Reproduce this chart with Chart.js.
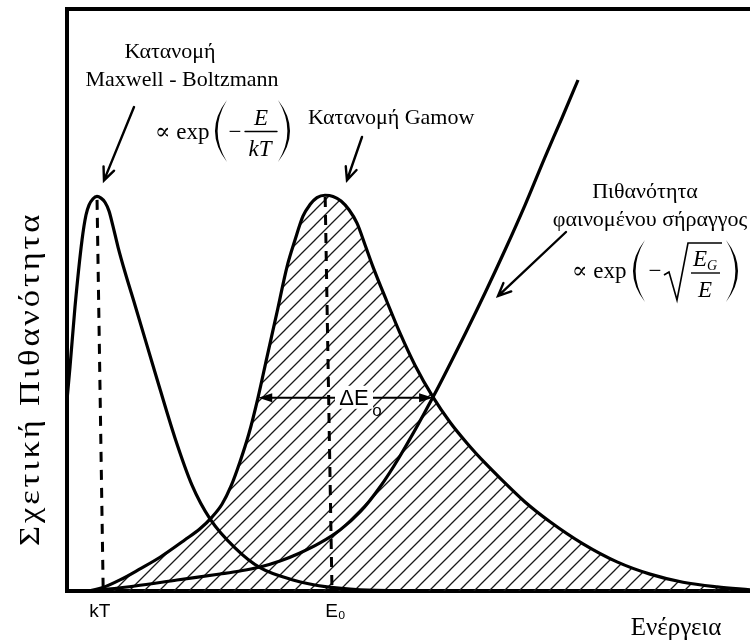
<!DOCTYPE html>
<html lang="el">
<head>
<meta charset="utf-8">
<title>Κορυφή Gamow</title>
<script src="https://cdn.jsdelivr.net/npm/chart.js@4/dist/chart.umd.min.js"></script>
<style>
  html, body { margin: 0; padding: 0; background: #fff; }
  canvas { display: block; }
</style>
</head>
<body>
<canvas id="c" width="750" height="644"></canvas>
<script>
// Energy (arbitrary units, 0–100) and relative probability (arbitrary units, 0–100)

// Maxwell–Boltzmann distribution
const mbEnergy = [0, 0.44, 1.17, 2.20, 2.78, 3.22, 3.81, 4.39, 4.98, 5.56, 6.15, 6.73, 7.47, 8.49, 9.96, 12.88, 15.81, 18.30, 20.94, 24.6, 28.26, 33.09, 38.07, 42.9, 51.68];
const mbProb   = [32.8, 38.5, 48.8, 60.3, 64.6, 66.3, 67.4, 67.8, 67.5, 66.8, 65.3, 62.7, 59.1, 54.8, 49.1, 37.6, 26.3, 18.2, 12.4, 7.4, 4.0, 1.9, 0.7, 0.2, 0];

// Gamow peak (product of the two factors)
const gamowEnergy = [3.37, 5.27, 7.76, 10.69, 13.62, 17.28, 19.47, 21.23, 22.69, 24.01, 25.33, 26.65, 27.96, 29.28, 30.75, 32.21, 33.38, 34.55, 35.58, 36.60, 37.77,
                     38.95, 40.12, 41.29, 42.46, 43.63, 44.80, 46.85, 48.76, 50.95, 53.59, 56.08, 58.57, 61.20, 63.40, 67.06, 70.72, 75.55, 80.53, 85.36, 90.19, 95.17, 100];
const gamowProb   = [0, 0.6, 1.9, 3.8, 5.8, 8.8, 10.7, 12.7, 14.9, 18.0, 22.2, 27.1, 33.2, 40.2, 47.9, 55.7, 60.3, 64.4, 66.4, 67.6, 68.0,
                     67.8, 67.0, 65.5, 63.2, 59.5, 55.7, 49.7, 44.3, 38.8, 33.3, 29.0, 25.4, 22.0, 19.4, 15.3, 11.9, 8.1, 5.0, 2.9, 1.5, 0.7, 0.2];

// Tunnelling probability through the Coulomb barrier
const tunnelEnergy = [3.37, 9.96, 16.11, 22.40, 25.33, 28.26, 31.19, 34.11, 37.04, 39.97, 42.90, 45.83, 48.76, 53.59, 58.57, 61.20, 64.13, 67.06, 69.99, 72.47, 74.82];
const tunnelProb   = [0, 0.86, 1.89, 2.92, 3.44, 4.12, 5.15, 6.53, 8.25, 10.48, 13.57, 17.87, 23.20, 33.33, 44.85, 51.20, 58.59, 66.32, 74.57, 81.27, 87.80];

// Dashed markers under the two peaks
const kTMarkerEnergy = [4.4, 5.3];
const kTMarkerProb   = [67.2, 0];
const e0MarkerEnergy = [37.8, 38.8];
const e0MarkerProb   = [67.7, 0];

// Energy-axis ticks
const tickEnergies = [4.8, 39.3];
const tickLabels   = ['kT', 'E₀'];

// Width of the Gamow peak (ΔE₀)
const deltaELevel = 33.2;
const deltaEFrom  = 28.0;
const deltaETo    = 53.6;

const SERIF = '"Liberation Serif", "DejaVu Serif", serif';
const SANS  = '"Liberation Sans", "DejaVu Sans", sans-serif';

const pts = (xs, ys) => xs.map((v, i) => ({ x: v, y: ys[i] }));

function hatchPattern() {
  const p = 15;
  const c = document.createElement('canvas');
  c.width = p; c.height = p;
  const g = c.getContext('2d');
  g.strokeStyle = '#1a1a1a';
  g.lineWidth = 1.3;
  g.beginPath();
  g.moveTo(-2, p + 2); g.lineTo(p + 2, -2);
  g.moveTo(-2, 2); g.lineTo(2, -2);
  g.moveTo(p - 2, p + 2); g.lineTo(p + 2, p - 2);
  g.stroke();
  return g.createPattern(c, 'repeat');
}

const curve = {
  showLine: true, pointRadius: 0, borderColor: '#000', borderWidth: 3.2,
  cubicInterpolationMode: 'monotone', fill: false
};

// Annotation layer: labels, formulas, arrows
function vArrow(ctx, x1, y1, x2, y2) {
  const a = Math.atan2(y2 - y1, x2 - x1), L = 14, s = 0.42;
  ctx.beginPath();
  ctx.moveTo(x1, y1); ctx.lineTo(x2, y2);
  ctx.moveTo(x2 - L * Math.cos(a - s), y2 - L * Math.sin(a - s));
  ctx.lineTo(x2, y2);
  ctx.lineTo(x2 - L * Math.cos(a + s), y2 - L * Math.sin(a + s));
  ctx.stroke();
}
function paren(ctx, xe, top, bot, bulge, thick) {
  const mid = (top + bot) / 2, sg = Math.sign(bulge);
  ctx.beginPath();
  ctx.moveTo(xe, top);
  ctx.quadraticCurveTo(xe + 2 * bulge, mid, xe, bot);
  ctx.quadraticCurveTo(xe + 2 * (bulge - sg * thick), mid, xe, top);
  ctx.closePath();
  ctx.fill();
}
function txt(ctx, s, x, y, font, align, base) {
  ctx.font = font;
  ctx.textAlign = align || 'center';
  ctx.textBaseline = base || 'middle';
  ctx.fillText(s, x, y);
}

const annotations = {
  id: 'annotations',
  beforeDraw(chart) {
    const { ctx, width, height } = chart;
    ctx.save(); ctx.fillStyle = '#fff'; ctx.fillRect(0, 0, width, height); ctx.restore();
  },
  afterDatasetsDraw(chart) {
    const { ctx, scales: { x, y } } = chart;
    ctx.save();
    ctx.fillStyle = '#000';
    ctx.strokeStyle = '#000';
    ctx.lineCap = 'round';

    // axis titles
    ctx.save();
    ctx.translate(31, 380);
    ctx.rotate(-Math.PI / 2);
    ctx.scale(1.15, 1);
    ctx.letterSpacing = '2.5px';
    txt(ctx, 'Σχετική Πιθανότητα', 1, 0, '30px ' + SERIF);
    ctx.restore();
    txt(ctx, 'Ενέργεια', 676, 628, '25px ' + SERIF);

    // Maxwell–Boltzmann label
    txt(ctx, 'Κατανομή', 170, 52, '22px ' + SERIF);
    txt(ctx, 'Maxwell - Boltzmann', 182, 80, '22px ' + SERIF);
    ctx.lineWidth = 2.4;
    const mbPeak = { x: x.getPixelForValue(mbEnergy[7]), y: y.getPixelForValue(mbProb[7]) };
    vArrow(ctx, 134, 107, mbPeak.x + 7, mbPeak.y - 16);

    // ∝ exp(−E/kT)
    txt(ctx, '∝ exp', 155, 139, '23px ' + SERIF, 'left', 'alphabetic');
    paren(ctx, 227, 100, 162, -12, 2.6);
    txt(ctx, '−', 235, 139, '23px ' + SERIF, 'center', 'alphabetic');
    txt(ctx, 'E', 261, 125, 'italic 23px ' + SERIF, 'center', 'alphabetic');
    ctx.lineWidth = 1.4;
    ctx.beginPath(); ctx.moveTo(245, 131.5); ctx.lineTo(277, 131.5); ctx.stroke();
    txt(ctx, 'kT', 260, 156, 'italic 23px ' + SERIF, 'center', 'alphabetic');
    paren(ctx, 278, 100, 162, 12, 2.6);

    // Gamow label
    txt(ctx, 'Κατανομή Gamow', 308, 118, '22px ' + SERIF, 'left');
    ctx.lineWidth = 2.4;
    const gPeak = { x: x.getPixelForValue(gamowEnergy[20]), y: y.getPixelForValue(gamowProb[20]) };
    vArrow(ctx, 362, 137, gPeak.x + 22, gPeak.y - 15);

    // tunnelling label and ∝ exp(−√(E_G/E))
    txt(ctx, 'Πιθανότητα', 645, 192, '22px ' + SERIF);
    txt(ctx, 'φαινομένου σήραγγος', 650, 220, '22px ' + SERIF);
    txt(ctx, '∝ exp', 572, 278, '23px ' + SERIF, 'left', 'alphabetic');
    paren(ctx, 645, 240, 302, -12, 2.6);
    txt(ctx, '−', 655, 278, '23px ' + SERIF, 'center', 'alphabetic');
    ctx.lineWidth = 1.6;
    ctx.lineCap = 'butt';
    ctx.beginPath();
    ctx.moveTo(664, 275); ctx.lineTo(669, 272); ctx.lineTo(677, 300); ctx.lineTo(688, 243); ctx.lineTo(722, 243);
    ctx.stroke();
    txt(ctx, 'E', 700, 266, 'italic 23px ' + SERIF, 'center', 'alphabetic');
    txt(ctx, 'G', 712, 270, 'italic 14px ' + SERIF, 'center', 'alphabetic');
    ctx.lineWidth = 1.4;
    ctx.beginPath(); ctx.moveTo(691, 273); ctx.lineTo(720, 273); ctx.stroke();
    txt(ctx, 'E', 705, 297, 'italic 23px ' + SERIF, 'center', 'alphabetic');
    paren(ctx, 726, 240, 302, 12, 2.6);
    ctx.lineCap = 'round';
    ctx.lineWidth = 2.4;
    const tp = { x: x.getPixelForValue(tunnelEnergy[15]), y: y.getPixelForValue(tunnelProb[15]) };
    vArrow(ctx, 566, 232, tp.x + 13, tp.y + 3);

    // ΔE₀ width arrow
    const yL = y.getPixelForValue(deltaELevel);
    const xa = x.getPixelForValue(deltaEFrom), xb = x.getPixelForValue(deltaETo);
    ctx.lineWidth = 2;
    ctx.beginPath(); ctx.moveTo(xa + 6, yL); ctx.lineTo(xb - 6, yL); ctx.stroke();
    ctx.beginPath();
    ctx.moveTo(xa, yL); ctx.lineTo(xa + 14, yL - 4.5); ctx.lineTo(xa + 14, yL + 4.5); ctx.closePath();
    ctx.moveTo(xb, yL); ctx.lineTo(xb - 14, yL - 4.5); ctx.lineTo(xb - 14, yL + 4.5); ctx.closePath();
    ctx.fill();
    ctx.fillStyle = '#fff';
    ctx.fillRect(335, yL - 12, 38, 23);
    ctx.fillStyle = '#000';
    txt(ctx, 'ΔE', 354, yL + 1, '22px ' + SANS);
    txt(ctx, 'o', 377, yL + 14, '17px ' + SANS);

    ctx.restore();
  }
};

new Chart(document.getElementById('c'), {
  type: 'scatter',
  data: {
    datasets: [
      { ...curve, label: 'Maxwell-Boltzmann', data: pts(mbEnergy, mbProb) },
      { ...curve, label: 'Tunnelling', data: pts(tunnelEnergy, tunnelProb) },
      { ...curve, label: 'kT', data: pts(kTMarkerEnergy, kTMarkerProb), borderWidth: 3, borderDash: [10, 8], cubicInterpolationMode: 'default', tension: 0 },
      { ...curve, label: 'E0', data: pts(e0MarkerEnergy, e0MarkerProb), borderWidth: 3, borderDash: [10, 8], cubicInterpolationMode: 'default', tension: 0 },
      { ...curve, label: 'Gamow', data: pts(gamowEnergy, gamowProb), fill: 'origin', backgroundColor: hatchPattern() }
    ]
  },
  options: {
    responsive: false,
    animation: false,
    events: [],
    layout: { padding: 0 },
    plugins: { legend: { display: false }, tooltip: { enabled: false } },
    scales: {
      x: {
        type: 'linear', position: 'bottom', min: 0, max: 100,
        grid: { display: false, drawTicks: false },
        border: { display: true, color: '#000', width: 4 },
        afterBuildTicks: s => { s.ticks = tickEnergies.map(v => ({ value: v })); },
        ticks: {
          autoSkip: false, maxRotation: 0, padding: 9, color: '#000',
          font: { family: SANS, size: 19 },
          callback: (v, i) => tickLabels[i]
        },
        afterFit: s => { s.height = 53; }
      },
      xTop: {
        type: 'linear', position: 'top', min: 0, max: 100,
        grid: { display: false, drawTicks: false },
        ticks: { display: false },
        border: { display: true, color: '#000', width: 4 },
        afterFit: s => { s.height = 9; }
      },
      y: {
        type: 'linear', position: 'left', min: 0, max: 100,
        grid: { display: false, drawTicks: false },
        ticks: { display: false },
        border: { display: true, color: '#000', width: 4 },
        afterFit: s => { s.width = 67; }
      }
    }
  },
  plugins: [annotations]
});
</script>
</body>
</html>
